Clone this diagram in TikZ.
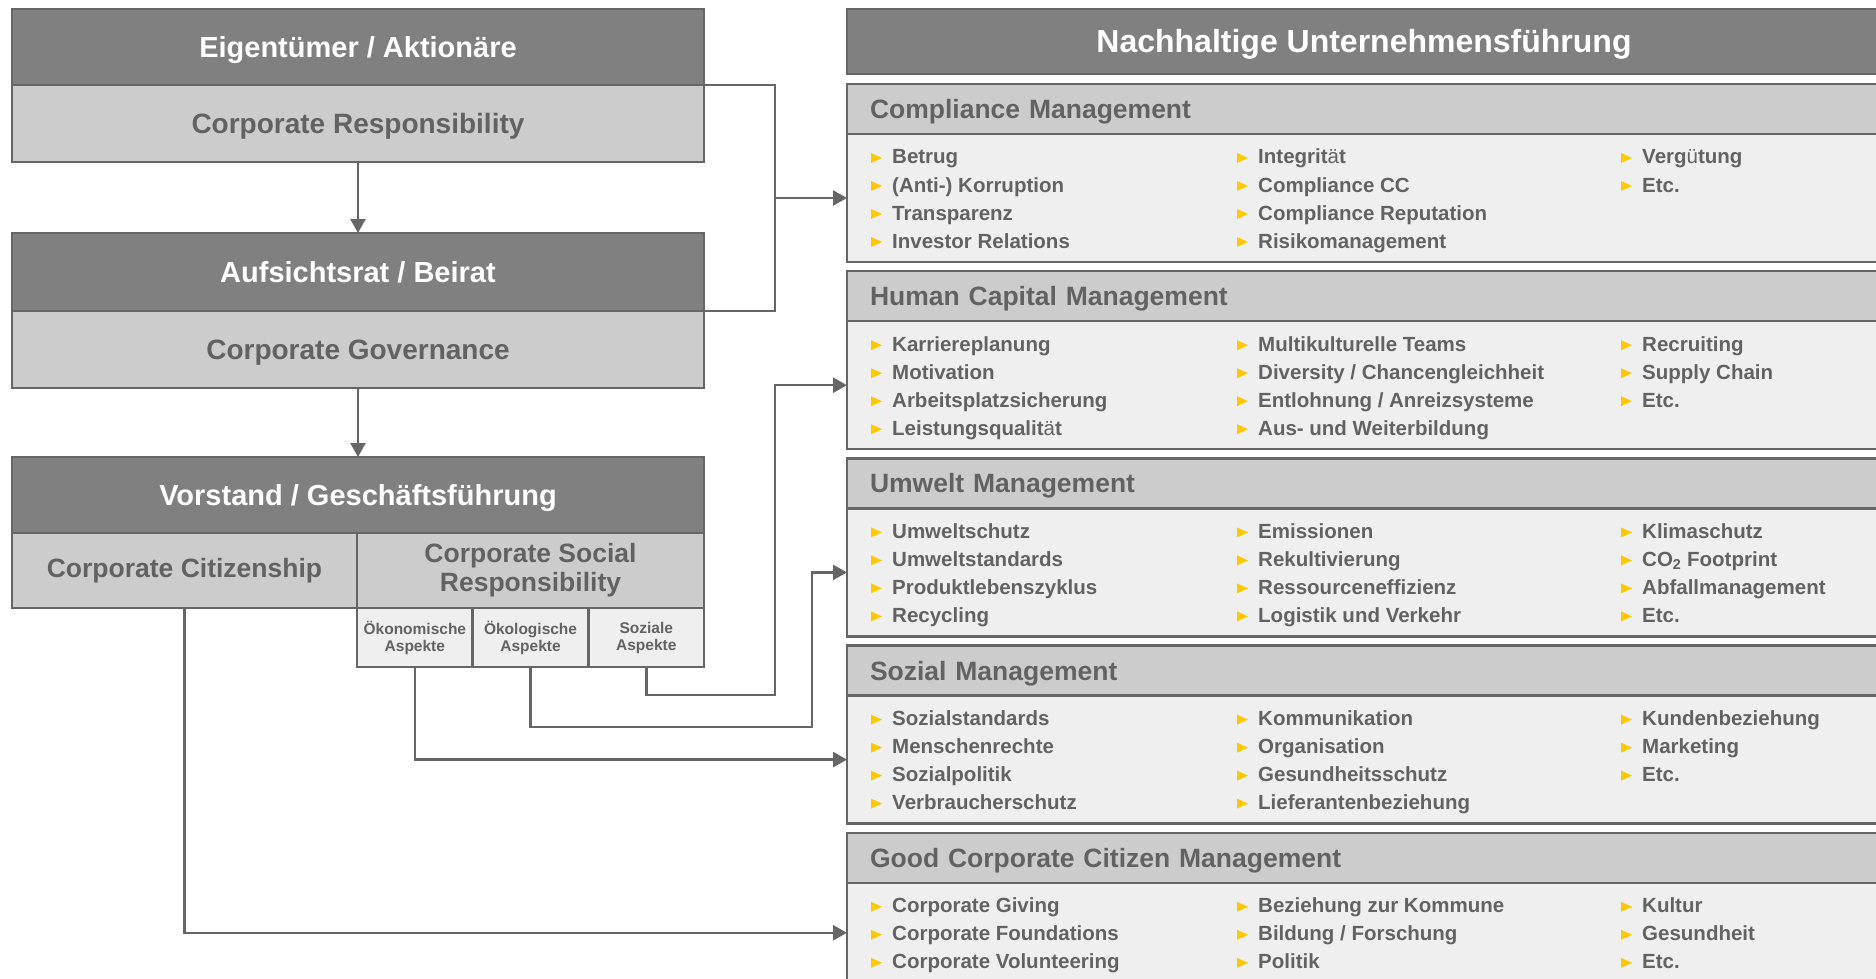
\documentclass[tikz,border=0pt]{standalone}
\usepackage{fontspec}
\setmainfont{Liberation Sans}
\usetikzlibrary{calc,positioning}
\usetikzlibrary{arrows.meta}
\tikzset{>={Triangle[width=15pt,length=14pt]}}

\definecolor{dunkel}{HTML}{808080}
\definecolor{hell}{HTML}{CCCCCC}
\definecolor{blass}{HTML}{EFEFEF}
\definecolor{rahmen}{HTML}{666666}
\definecolor{schrift}{HTML}{626262}
\definecolor{gelb}{HTML}{FFC800}

% eine Spalte Stichpunkte: Name, x, erste Grundlinie, Liste
\newcommand{\punkte}[4]{%
  \foreach \txt [count=\k from 0] in {#4} {
    \node[eintrag] (#1\k) at (#2,#3+28*\k) {\txt};
    \fill[gelb] ($(#1\k.base west)+(-21,-11)$) -- ++(11,5) -- ++(-11,5) -- cycle;
  }%
}

\begin{document}
\begin{tikzpicture}[x=1pt,y=-1pt]
        \useasboundingbox (0,0) rectangle (1876,979);

          \tikzstyle{kasten} = [draw=rahmen, line width=2.5pt, outer sep=0pt, fill=dunkel, text=white, font=\bfseries\fontsize{29}{34}\selectfont, minimum width=692pt, minimum height=76pt, text height=20.8pt, text depth=0pt]
          \tikzstyle{feld} = [draw=rahmen, line width=2.5pt, outer sep=0pt, fill=hell, text=schrift, font=\bfseries\fontsize{28}{32}\selectfont, minimum width=692pt, minimum height=77pt, text height=20pt, text depth=0pt]
          \tikzstyle{halb} = [draw=rahmen, line width=2.5pt, outer sep=0pt, fill=hell, text=schrift, font=\bfseries\fontsize{26.5}{29}\selectfont, minimum height=75pt, align=center, inner sep=0pt]
          \tikzstyle{aspekt} = [draw=rahmen, line width=2.5pt, outer sep=0pt, fill=blass, text=schrift, font=\bfseries\fontsize{15.5}{17}\selectfont, minimum width=115.7pt, minimum height=59pt, align=center, inner sep=0pt]
          \tikzstyle{titel} = [draw=rahmen, line width=2.5pt, outer sep=0pt, fill=dunkel, text=white, font=\bfseries\fontsize{32}{38}\selectfont, minimum width=1034pt, minimum height=65pt, text height=23pt, text depth=0pt]
          \tikzstyle{bereich} = [draw=rahmen, line width=2.5pt, outer sep=0pt, fill=hell, text=schrift, font=\bfseries\fontsize{26.5}{30}\selectfont, minimum width=1034pt, minimum height=50pt, text width=988pt, align=left, inner xsep=23pt, inner ysep=0pt, text height=19pt, text depth=0pt]
          \tikzstyle{inhalt} = [draw=rahmen, line width=2.5pt, outer sep=0pt, fill=blass, minimum width=1034pt, minimum height=128pt, inner sep=0pt]
          \tikzstyle{eintrag} = [anchor=base west, inner sep=0pt, text=schrift, font=\bfseries\fontsize{20.5}{24}\selectfont]
          \tikzstyle{verbinder} = [draw=rahmen, line width=2.5pt]

          % linke Seite
          \node[kasten] (eig) at (358,47) {Eigentümer / Aktionäre};
          \node[feld, below=0pt of eig] (cr) {Corporate Responsibility};

          \node[kasten, minimum height=78pt] (auf) at (358,272) {Aufsichtsrat / Beirat};
          \node[feld, below=0pt of auf] (cg) {Corporate Governance};

          \node[kasten] (vor) at (358,495) {Vorstand / Geschäftsführung};
          \node[halb, minimum width=345pt, anchor=north west] (cc) at (vor.south west) {Corporate Citizenship};
          \node[halb, minimum width=347pt, anchor=north east] (csr) at (vor.south east) {Corporate Social\\Responsibility};

          \node[aspekt, anchor=north west] (okon) at (csr.south west) {Ökonomische\\Aspekte};
          \node[aspekt, right=0pt of okon] (okol) {Ökologische\\Aspekte};
          \node[aspekt, right=0pt of okol] (sasp) {Soziale\\Aspekte};

          % rechte Seite
          \node[titel] (nh) at (1364,41.5) {Nachhaltige Unternehmensführung};

          \node[bereich] (cm) at (1364,109) {Compliance Management};
          \node[inhalt, below=0pt of cm] (cmb) {};

          \node[bereich] (hc) at (1364,296.2) {Human Capital Management};
          \node[inhalt, below=0pt of hc] (hcb) {};

          \node[bereich] (um) at (1364,483.4) {Umwelt Management};
          \node[inhalt, below=0pt of um] (umb) {};

          \node[bereich] (sm) at (1364,670.6) {Sozial Management};
          \node[inhalt, below=0pt of sm] (smb) {};

          \node[bereich] (gc) at (1364,857.8) {Good Corporate Citizen Management};
          \node[inhalt, minimum height=100pt, below=0pt of gc] (gcb) {};

          \punkte{cma}{892}{164}{Betrug,{(Anti-) Korruption},Transparenz,Investor Relations}
          \punkte{cmb}{1258}{164}{{Integrit{\mdseries ä}t},Compliance CC,Compliance Reputation,Risikomanagement}
          \punkte{cmc}{1642}{164}{{Verg{\mdseries ü}tung},Etc.}

          \punkte{hca}{892}{351.2}{Karriereplanung,Motivation,Arbeitsplatzsicherung,{Leistungsqualit{\mdseries ä}t}}
          \punkte{hcb}{1258}{351.2}{Multikulturelle Teams,{Diversity / Chancengleichheit},{Entlohnung / Anreizsysteme},Aus- und Weiterbildung}
          \punkte{hcc}{1642}{351.2}{Recruiting,Supply Chain,Etc.}

          \punkte{uma}{892}{538.4}{Umweltschutz,Umweltstandards,Produktlebenszyklus,Recycling}
          \punkte{umb}{1258}{538.4}{Emissionen,Rekultivierung,Ressourceneffizienz,Logistik und Verkehr}
          \punkte{umc}{1642}{538.4}{Klimaschutz,{CO\textsubscript{2} Footprint},Abfallmanagement,Etc.}

          \punkte{sma}{892}{725.6}{Sozialstandards,Menschenrechte,Sozialpolitik,Verbraucherschutz}
          \punkte{smb}{1258}{725.6}{Kommunikation,Organisation,Gesundheitsschutz,Lieferantenbeziehung}
          \punkte{smc}{1642}{725.6}{Kundenbeziehung,Marketing,Etc.}

          \punkte{gca}{892}{912.8}{Corporate Giving,Corporate Foundations,Corporate Volunteering}
          \punkte{gcb}{1258}{912.8}{Beziehung zur Kommune,{Bildung / Forschung},Politik}
          \punkte{gcc}{1642}{912.8}{Kultur,Gesundheit,Etc.}

          % Verbindungen
          \coordinate (kx) at (775,0);
          \coordinate (ky) at (812,0);

          \draw[verbinder,->] (cr) -- (auf);
          \draw[verbinder,->] (cg) -- (vor);

          \draw[verbinder] (eig.south east) -| (kx |- auf.south east) -- (auf.south east);
          \draw[verbinder,->] (kx |- cmb.west) -- (cmb.west);

          \draw[verbinder,->] (sasp.south) -- ++(0,28) -| (kx |- hcb.west) -- (hcb.west);
          \draw[verbinder,->] (okol.south) -- ++(0,60) -| (ky |- umb.west) -- (umb.west);
          \draw[verbinder,->] (okon.south) |- (smb.west);
          \draw[verbinder,->] (cc.south) |- (gcb.west);

\end{tikzpicture}
\end{document}
